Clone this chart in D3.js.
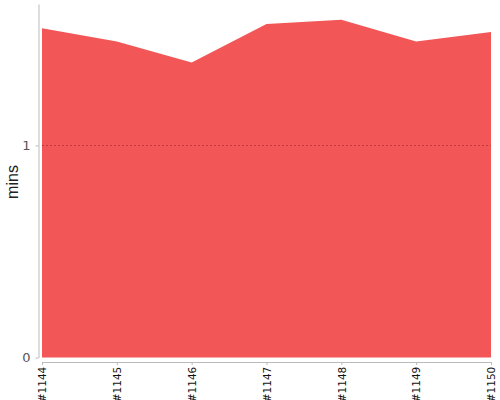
<!DOCTYPE html>
<html>
<head>
<meta charset="utf-8">
<script src="https://cdn.jsdelivr.net/npm/d3@7"></script>
<style>
  body { margin: 0; background: #fff; }
  .axis path, .axis line { stroke: #bbb; }
  .y.axis text { fill: #555; font-size: 13px; }
  .x.axis text { fill: #111; font-size: 10.5px; }
</style>
</head>
<body>
<svg id="chart" width="500" height="400"></svg>
<script>
'use strict';

// builds shown on the x axis
var builds = ['#1144', '#1145', '#1146', '#1147', '#1148', '#1149', '#1150'];
// duration in minutes
var minutes = [1.553, 1.490, 1.391, 1.573, 1.592, 1.490, 1.535];
var yTicks = [0, 1];

var margin = {top: 4, right: 9, bottom: 42.5, left: 42},
    width = 500 - margin.left - margin.right,
    height = 400 - margin.top - margin.bottom;

var svg = d3.select('#chart');
var chart = svg.append('g')
    .attr('transform', 'translate(' + margin.left + ',' + margin.top + ')');

var x = d3.scalePoint()
    .range([0, width])
    .domain(builds);

var y = d3.scaleLinear()
    .range([height, 0])
    .domain([0, d3.max(minutes) * 1.047]);

var data = builds.map(function(b, i) { return {build: b, value: minutes[i]}; });

// Area
var area = d3.area()
    .x(function(d) { return x(d.build); })
    .y0(height)
    .y1(function(d) { return y(d.value); });

chart.append('path')
    .datum(data)
    .attr('fill', '#f25656')
    .attr('d', area);

// Grid line at 1
chart.selectAll('.grid')
    .data(yTicks.filter(function(t) { return t > 0; }))
    .enter().append('line')
    .attr('class', 'grid')
    .attr('x1', 0)
    .attr('x2', width)
    .attr('y1', function(d) { return Math.round(y(d)) + 0.5; })
    .attr('y2', function(d) { return Math.round(y(d)) + 0.5; })
    .attr('stroke', '#c0393d')
    .attr('stroke-dasharray', '2,2')
    .attr('stroke-width', 1);

// Y Axis
chart.append('g')
    .attr('class', 'y axis')
    .attr('transform', 'translate(-3.5,0)')
    .call(d3.axisLeft(y).tickValues(yTicks).tickFormat(d3.format('d'))
        .tickSize(3).tickSizeOuter(0).tickPadding(5))
    .style('font-family', '"DejaVu Sans", sans-serif');

// X Axis
chart.append('g')
    .attr('class', 'x axis')
    .attr('transform', 'translate(0,' + (height + 4.5) + ')')
    .call(d3.axisBottom(x).tickSize(3).tickSizeOuter(0).tickPadding(5))
    .style('font-family', '"DejaVu Sans", sans-serif')
    .selectAll('text')
        .style('text-anchor', 'end')
        .attr('x', 0)
        .attr('y', 0)
        .attr('dx', '-0.45em')
        .attr('dy', '0.35em')
        .attr('transform', 'rotate(-90)');

// Y label
svg.append('text')
    .attr('transform', 'translate(18,182) rotate(-90)')
    .style('text-anchor', 'middle')
    .style('font-family', 'Liberation Sans, Arial, sans-serif')
    .style('font-size', '16px')
    .style('fill', '#222')
    .text('mins');
</script>
</body>
</html>
